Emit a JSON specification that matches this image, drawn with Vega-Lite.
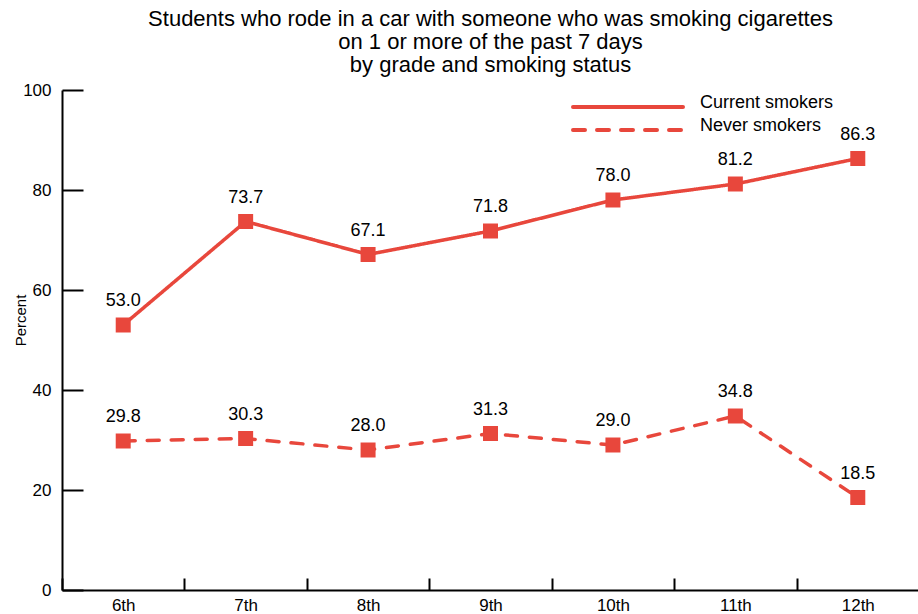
{
  "$schema": "https://vega.github.io/schema/vega-lite/v6.json",
  "width": 857,
  "height": 500,
  "autosize": {"type": "none"},
  "padding": {"left": 62, "top": 90, "right": 0, "bottom": 24},
  "background": "white",
  "config": {
    "view": {"stroke": null},
    "font": "Liberation Sans"
  },
  "title": {
    "text": ["Students who rode in a car with someone who was smoking cigarettes", "on 1 or more of the past 7 days", "by grade and smoking status"],
    "fontSize": 22,
    "fontWeight": "normal",
    "font": "Liberation Sans",
    "color": "black",
    "anchor": "middle",
    "offset": 4,
    "lineHeight": 23
  },
  "data": {
    "values": [
      {"grade": "6th", "status": "Current smokers", "value": 53.0},
      {"grade": "7th", "status": "Current smokers", "value": 73.7},
      {"grade": "8th", "status": "Current smokers", "value": 67.1},
      {"grade": "9th", "status": "Current smokers", "value": 71.8},
      {"grade": "10th", "status": "Current smokers", "value": 78.0},
      {"grade": "11th", "status": "Current smokers", "value": 81.2},
      {"grade": "12th", "status": "Current smokers", "value": 86.3},
      {"grade": "6th", "status": "Never smokers", "value": 29.8},
      {"grade": "7th", "status": "Never smokers", "value": 30.3},
      {"grade": "8th", "status": "Never smokers", "value": 28.0},
      {"grade": "9th", "status": "Never smokers", "value": 31.3},
      {"grade": "10th", "status": "Never smokers", "value": 29.0},
      {"grade": "11th", "status": "Never smokers", "value": 34.8},
      {"grade": "12th", "status": "Never smokers", "value": 18.5}
    ]
  },
  "encoding": {
    "x": {
      "field": "grade",
      "type": "nominal",
      "sort": ["6th", "7th", "8th", "9th", "10th", "11th", "12th"],
      "scale": {"type": "band", "paddingInner": 0, "paddingOuter": 0},
      "axis": {
        "title": null,
        "labelAngle": 0,
        "tickBand": "extent",
        "tickSize": -12,
        "tickWidth": 2,
        "tickColor": "black",
        "domainColor": "black",
        "domainWidth": 2,
        "labelFontSize": 17,
        "labelColor": "black",
        "labelPadding": 19,
        "grid": false
      }
    },
    "y": {
      "field": "value",
      "type": "quantitative",
      "scale": {"domain": [0, 100], "nice": false},
      "axis": {
        "title": "Percent",
        "titleFontSize": 15,
        "titleFontWeight": "normal",
        "titleColor": "black",
        "titleX": -34,
        "titleY": 230,
        "values": [0, 20, 40, 60, 80, 100],
        "tickSize": -21,
        "tickWidth": 2,
        "tickColor": "black",
        "domainColor": "black",
        "domainWidth": 2,
        "labelFontSize": 17,
        "labelColor": "black",
        "labelPadding": 32,
        "grid": false
      }
    }
  },
  "layer": [
    {
      "mark": {"type": "line", "color": "#e8473c", "strokeWidth": 3.5, "strokeCap": "round"},
      "encoding": {
        "detail": {"field": "status"},
        "strokeDash": {
          "field": "status",
          "type": "nominal",
          "scale": {"domain": ["Current smokers", "Never smokers"], "range": [[1, 0], [12, 12]]},
          "legend": {
            "title": null,
            "orient": "none",
            "legendX": 557,
            "legendY": 8,
            "symbolType": "M-10,0H10",
            "symbolSize": 121,
            "symbolStrokeWidth": 4,
            "symbolStrokeColor": "#e8473c",
            "labelFontSize": 18,
            "labelColor": "black",
            "labelOffset": 63,
            "rowPadding": 2,
            "labelBaseline": "middle",
            "encode": {
              "labels": {"update": {"dy": {"value": -4}}},
              "symbols": {"update": {"strokeCap": {"value": "round"}}}
            }
          }
        }
      }
    },
    {
      "mark": {"type": "point", "shape": "square", "filled": true, "opacity": 1, "size": 225, "color": "#e8473c"},
      "encoding": {"detail": {"field": "status"}}
    },
    {
      "mark": {"type": "text", "fontSize": 18, "color": "black", "dy": -19, "baseline": "alphabetic"},
      "encoding": {"text": {"field": "value", "type": "quantitative", "format": ".1f"}}
    }
  ]
}
